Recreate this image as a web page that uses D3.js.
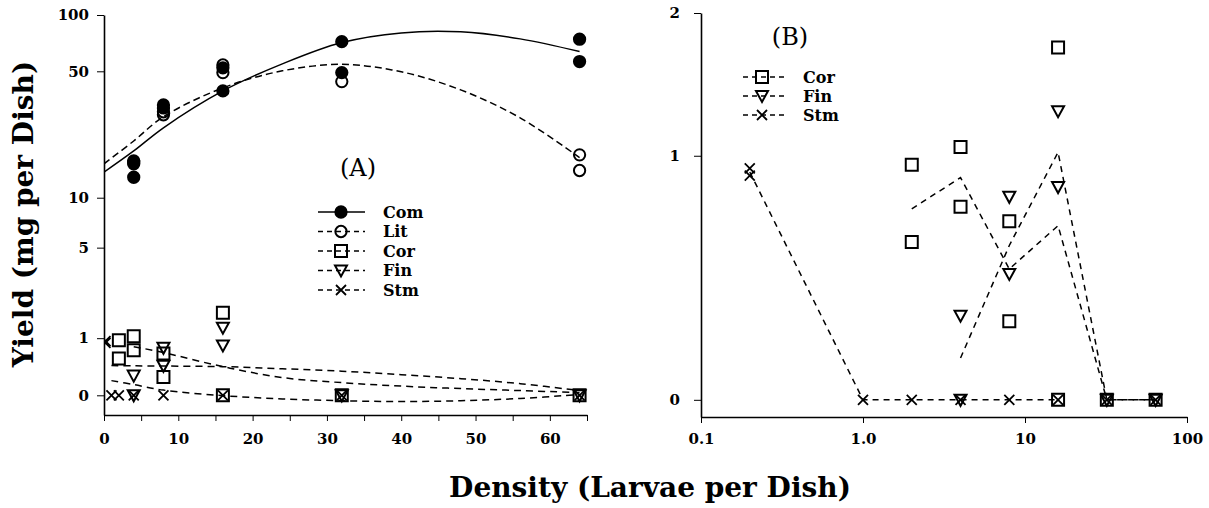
<!DOCTYPE html>
<html>
<head>
<meta charset="utf-8">
<script src="https://cdn.jsdelivr.net/npm/d3@7"></script>
<style>
body { margin: 0; background: #fff; }
svg { display: block; }
.axis text { font-family: "DejaVu Serif", serif; font-weight: bold; font-size: 15px; fill: #000; }
.axis path { stroke: #000; stroke-width: 1.6; }
.axis line { stroke: #000; stroke-width: 1; }
.title { font-family: "DejaVu Serif", serif; font-weight: bold; font-size: 28px; fill: #000; }
.legend text { font-family: "DejaVu Serif", serif; font-weight: bold; font-size: 16px; fill: #000; }
.panel-tag { font-family: "DejaVu Serif", serif; font-size: 24px; fill: #000; }
</style>
</head>
<body>
<div id="graph"></div>
<script>
const width = 1209
const height = 508

// ---- data (densities in larvae per dish, yields in mg per dish) ----
const comPoints = [[4, 16.2], [4, 15.6], [4, 13.1], [8, 32.9], [8, 31.7], [16, 52.2], [16, 39.2], [32, 72.1], [32, 49.2], [64, 74.3], [64, 56.4]]
const litPoints = [[4, 15.9], [8, 29.1], [8, 30.2], [16, 54.1], [16, 49.2], [32, 44.0], [64, 17.5], [64, 14.3]]
const corPoints = [[2, 0.95], [2, 0.565], [4, 1.05], [4, 0.73], [8, 0.66], [8, 0.25], [16, 1.72], [16, 0], [32, 0], [64, 0]]
const finPoints = [[4, 0.27], [4, 0], [8, 0.78], [8, 0.43], [16, 1.27], [16, 0.83], [32, 0], [64, 0]]
const stmPoints = [[0.2, 0.93], [0.2, 0.89], [1, 0], [2, 0], [4, 0], [8, 0], [16, 0], [32, 0], [64, 0]]

// fitted curves in panel A
const comFit = [[0, 14.0], [4, 18.4], [8, 24.7], [16, 39.2], [24, 54.8], [32, 71.3], [40, 80.3], [48, 81.3], [56, 74.6], [64, 63.8]]
const litFit = [[0, 15.6], [4, 20.9], [8, 28.4], [16, 40.7], [24, 50.3], [32, 54.5], [40, 49.7], [48, 39.7], [56, 28.0], [64, 16.9]]
const lowFit1 = [[4, 0.805], [8, 0.68], [16, 0.416], [24, 0.24], [32, 0.166], [40, 0.118], [48, 0.085], [56, 0.059], [64, 0.033]]
const lowFit2 = [[1, 0.434], [4, 0.43], [8, 0.426], [16, 0.416], [24, 0.38], [32, 0.34], [40, 0.285], [48, 0.224], [56, 0.152], [64, 0.059]]
const lowFit3 = [[1, 0.195], [4, 0.139], [8, 0.065], [16, -0.004], [24, -0.045], [32, -0.068], [40, -0.079], [48, -0.068], [56, -0.039], [64, 0.009]]

// mean lines in panel B
const corLineB = [[2, 0.72], [4, 0.88], [8, 0.45], [16, 0.64], [32, 0], [64, 0]]
const finLineB = [[4, 0.126], [8, 0.55], [16, 1.02], [32, 0], [64, 0]]
const stmLineB = [[0.2, 0.91], [1, 0], [2, 0], [4, 0], [8, 0], [16, 0]]

// axes
const xTicksA = d3.range(0, 66, 5)
const yTicksA = [0, 1, 5, 10, 50, 100]
const xTicksB = [0.1, 1, 10, 100]
const xTickLabelsB = ["0.1", "1.0", "10", "100"]
const yTicksB = [0, 1, 2]

const legendA = ["Com", "Lit", "Cor", "Fin", "Stm"]
const legendB = ["Cor", "Fin", "Stm"]

const shapes = {
    filled: d3.symbol().type(d3.symbolCircle).size(100)(),
    circle: d3.symbol().type(d3.symbolCircle).size(100)(),
    square: "M-6,-6h12v12h-12Z",
    triangle: "M-6,-5L6,-5L0,6Z",
    cross: "M-5,-5L5,5M-5,5L5,-5"
}

const svg = d3.select("#graph")
    .append("svg")
    .attr("width", width)
    .attr("height", height)

svg.append("defs").append("clipPath")
    .attr("id", "clip-a")
    .append("rect")
    .attr("x", 104).attr("y", 0)
    .attr("width", 500).attr("height", 430)

function drawPoints(g, data, shape, x, y) {
    g.selectAll(null)
        .data(data)
        .join("path")
        .attr("d", shapes[shape])
        .attr("transform", d => `translate(${x(d[0])},${y(d[1])})`)
        .attr("fill", shape === "filled" ? "#000" : "none")
        .attr("stroke", "#000")
        .attr("stroke-width", shape === "cross" ? 1.8 : 2)
}

function drawLine(g, data, x, y, dash, curve) {
    let line = d3.line()
        .x(d => x(d[0]))
        .y(d => y(d[1]))
        .curve(curve)
    g.append("path")
        .datum(data)
        .attr("fill", "none")
        .attr("stroke", "#000")
        .attr("stroke-width", 1.5)
        .attr("stroke-dasharray", dash)
        .attr("d", line)
}

// ================= panel A =================
const xA = d3.scaleLinear().domain([0, 65]).range([104, 587])
const yA = d3.scaleSymlog().constant(1).domain([-0.27, 100]).range([415, 15])

svg.append("g")
    .attr("class", "axis")
    .attr("transform", "translate(0,415)")
    .call(d3.axisBottom(xA).tickValues(xTicksA).tickSize(6).tickSizeOuter(0).tickPadding(12)
        .tickFormat(d => d % 10 === 0 ? d : ""))
svg.append("g")
    .attr("class", "axis")
    .attr("transform", "translate(104,0)")
    .call(d3.axisLeft(yA).tickValues(yTicksA).tickSize(7).tickSizeOuter(0).tickPadding(8))

const plotA = svg.append("g").attr("clip-path", "url(#clip-a)")
drawLine(plotA, comFit, xA, yA, null, d3.curveCatmullRom)
drawLine(plotA, litFit, xA, yA, "7,4", d3.curveCatmullRom)
drawLine(plotA, lowFit1, xA, yA, "7,5", d3.curveCatmullRom)
drawLine(plotA, lowFit2, xA, yA, "7,5", d3.curveCatmullRom)
drawLine(plotA, lowFit3, xA, yA, "7,5", d3.curveCatmullRom)
drawPoints(plotA, litPoints, "circle", xA, yA)
drawPoints(plotA, comPoints, "filled", xA, yA)
drawPoints(plotA, corPoints, "square", xA, yA)
drawPoints(plotA, finPoints, "triangle", xA, yA)
drawPoints(plotA, stmPoints, "cross", xA, yA)

svg.append("text")
    .attr("class", "panel-tag")
    .attr("x", 358)
    .attr("y", 176)
    .style("text-anchor", "middle")
    .text("(A)")

const legendShapesA = ["filled", "circle", "square", "triangle", "cross"]
const legA = svg.append("g").attr("class", "legend")
legendA.forEach((name, i) => {
    let cy = 212 + i * 19.5
    legA.append("line")
        .attr("x1", 318).attr("x2", 365)
        .attr("y1", cy).attr("y2", cy)
        .attr("stroke", "#000")
        .attr("stroke-width", 1.5)
        .attr("stroke-dasharray", i === 0 ? null : "5,4")
    drawPoints(legA, [[341, cy]], legendShapesA[i], d => d, d => d)
    legA.append("text")
        .attr("x", 383)
        .attr("y", cy)
        .attr("dy", "0.35em")
        .text(name)
})

// ================= panel B =================
const xB = d3.scaleLog().domain([0.1, 100]).range([701, 1187])
const yB = d3.scaleSymlog().constant(1).domain([-0.05, 2]).range([417, 13])

svg.append("g")
    .attr("class", "axis")
    .attr("transform", "translate(0,417)")
    .call(d3.axisBottom(xB).tickValues(xTicksB).tickSize(6).tickSizeOuter(0).tickPadding(10)
        .tickFormat((d, i) => xTickLabelsB[i]))
svg.append("g")
    .attr("class", "axis")
    .attr("transform", "translate(701,0)")
    .call(d3.axisLeft(yB).tickValues(yTicksB).tickSize(7).tickSizeOuter(0).tickPadding(14)
        .tickFormat(d3.format("d")))

const plotB = svg.append("g")
drawLine(plotB, stmLineB, xB, yB, "6,5", d3.curveLinear)
drawLine(plotB, corLineB, xB, yB, "6,5", d3.curveLinear)
drawLine(plotB, finLineB, xB, yB, "6,5", d3.curveLinear)
drawPoints(plotB, corPoints, "square", xB, yB)
drawPoints(plotB, finPoints, "triangle", xB, yB)
drawPoints(plotB, stmPoints, "cross", xB, yB)

svg.append("text")
    .attr("class", "panel-tag")
    .attr("x", 790)
    .attr("y", 45)
    .style("text-anchor", "middle")
    .text("(B)")

const legendShapesB = ["square", "triangle", "cross"]
const legB = svg.append("g").attr("class", "legend")
legendB.forEach((name, i) => {
    let cy = 77 + i * 19
    legB.append("line")
        .attr("x1", 743).attr("x2", 787)
        .attr("y1", cy).attr("y2", cy)
        .attr("stroke", "#000")
        .attr("stroke-width", 1.5)
        .attr("stroke-dasharray", "5,4")
    drawPoints(legB, [[762, cy]], legendShapesB[i], d => d, d => d)
    legB.append("text")
        .attr("x", 803)
        .attr("y", cy)
        .attr("dy", "0.35em")
        .text(name)
})

// ================= titles =================
svg.append("text")
    .attr("class", "title")
    .attr("transform", "translate(33,214) rotate(-90)")
    .style("text-anchor", "middle")
    .text("Yield (mg per Dish)")

svg.append("text")
    .attr("class", "title")
    .attr("x", 650)
    .attr("y", 497)
    .style("text-anchor", "middle")
    .text("Density (Larvae per Dish)")
</script>
</body>
</html>
